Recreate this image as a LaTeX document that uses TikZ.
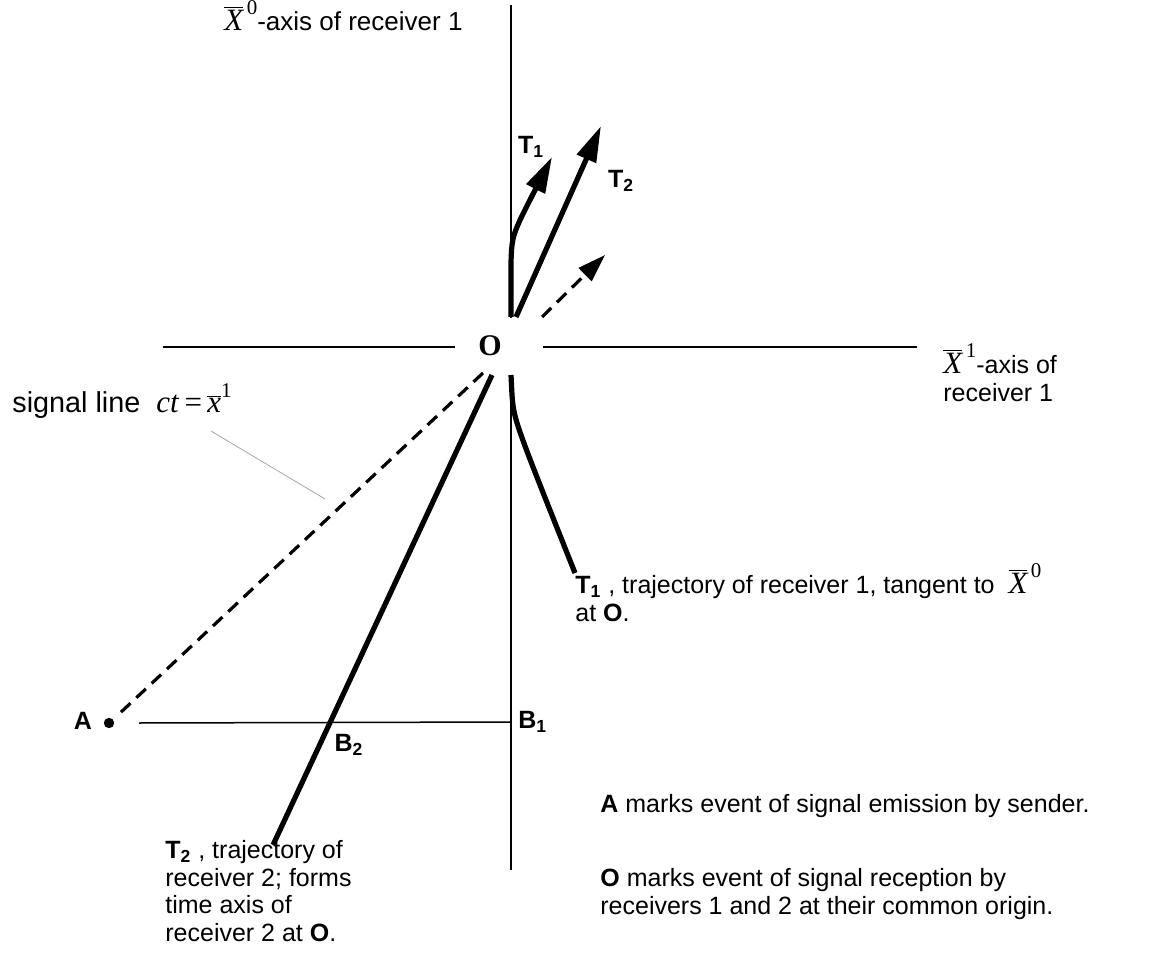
\documentclass[tikz,border=0pt]{standalone}
\usepackage{fontspec}
\setmainfont{Liberation Sans}
\newfontfamily\timesfont{Liberation Serif}
\usetikzlibrary{arrows.meta}

% barred coordinate symbols in a Times-like italic
\newcommand{\Xb}[1]{{\timesfont\fontsize{15.5}{16}\selectfont$\overline{\hbox{\itshape X}}$\raisebox{1.15ex}{\fontsize{10.5}{11}\selectfont\,#1}}}
\newcommand{\sigeq}{{\timesfont\fontsize{15.5}{16}\selectfont\itshape ct\/\,\upshape=\,$\overline{\hbox{\itshape x}}$\raisebox{1.1ex}{\fontsize{10.5}{11}\selectfont 1}}}

\tikzset{
  axisline/.style={line width=0.75pt, draw=black},
  trajline/.style={line width=2.6pt, draw=black},
  trajarrow/.style={trajline, -{Triangle[length=18pt, width=10pt]}},
  signalline/.style={line width=1.6pt, dash pattern=on 6.5pt off 4pt},
  dasharrow/.style={signalline, -{Triangle[length=14pt, width=9pt]}},
  leaderline/.style={line width=0.4pt, draw=gray!70},
  lbl/.style={font=\fontsize{12.5}{14}\selectfont, inner sep=0pt},
  boldlbl/.style={lbl, font=\fontsize{12.5}{14}\selectfont\bfseries},
  caption/.style={lbl, align=left, anchor=north west,
                  font=\fontsize{12.5}{13.8}\selectfont},
}

\begin{document}
\begin{tikzpicture}[x=0.5pt, y=-0.5pt]
  \useasboundingbox (0,0) rectangle (1154,977);

  %% axes of receiver 1
  \coordinate (x0top) at (511,5);
  \coordinate (x0gapT) at (511,318);
  \coordinate (x0gapB) at (511,378);
  \coordinate (x0bot) at (511,870);
  \coordinate (x1L) at (163,347);
  \coordinate (x1Lend) at (455,347);
  \coordinate (x1R) at (543,347);
  \coordinate (x1Rend) at (917,347);
  \draw[axisline] (x0top) -- (x0gapT);
  \draw[axisline] (x0gapB) -- (x0bot);
  \draw[axisline] (x1L) -- (x1Lend);
  \draw[axisline] (x1R) -- (x1Rend);

  \node[font=\fontsize{15}{16}\selectfont\timesfont\bfseries, inner sep=0pt] (Olbl) at (490,346) {O};

  %% trajectories above O
  \coordinate (t1s) at (511,317);
  \coordinate (t1k) at (511,262);
  \coordinate (t1tip) at (552,157);
  \coordinate (t2s) at (516,317);
  \coordinate (t2tip) at (601,126);
  \coordinate (ds) at (542,317);
  \coordinate (dtip) at (605,255);
  \draw[trajarrow] (t1s) -- (t1k) .. controls (512,235) .. (t1tip);
  \draw[trajarrow] (t2s) -- (t2tip);
  \draw[dasharrow] (ds) -- (dtip);
  \node[boldlbl] (t1up) at (531,147) {T\textsubscript{1}};
  \node[boldlbl] (t2up) at (621,181) {T\textsubscript{2}};

  %% trajectories below O
  \coordinate (t1d) at (511,375);
  \coordinate (t1m) at (512,395);
  \coordinate (t1e) at (575,573);
  \coordinate (t2d) at (492,375);
  \coordinate (t2e) at (273,845);
  \draw[trajline] (t1d) -- (t1m) .. controls (514,420) .. (t1e);
  \draw[trajline] (t2d) -- (t2e);

  %% signal line and events
  \coordinate (sgs) at (483,373);
  \coordinate (sge) at (119,714);
  \draw[signalline] (sgs) -- (sge);
  \fill (109,723) circle (2.6pt) coordinate (A);
  \coordinate (Bs) at (139,723);
  \coordinate (B1) at (511,722);
  \draw[axisline] (Bs) -- (B1);
  \node[boldlbl] (Albl) at (83,721) {A};
  \node[boldlbl, anchor=west] (B1lbl) at (518,722) {B\textsubscript{1}};
  \node[boldlbl] (B2lbl) at (349,745) {B\textsubscript{2}};

  %% texts
  \node[lbl, anchor=base west, font=\fontsize{13}{14}\selectfont] (x0lbl) at (224,31) {\Xb{0}-axis of receiver 1};
  \node[caption] (x1lbl) at (943,343) {\Xb{1}-axis of\\receiver 1};
  \node[lbl, anchor=base west, font=\fontsize{14.4}{16}\selectfont] (siglbl) at (12,413) {signal line \ \sigeq};
  \coordinate (ldA) at (211,431);
  \coordinate (ldB) at (325,499);
  \draw[leaderline] (ldA) -- (ldB);
  \node[caption] (t1cap) at (575,563)
    {\textbf{T\textsubscript{1}} , trajectory of receiver 1, tangent to \ \Xb{0}\\at \textbf{O}.};
  \node[caption] (t2cap) at (165,840)
    {\textbf{T\textsubscript{2}} , trajectory of\\receiver 2; forms\\time axis of\\receiver 2 at \textbf{O}.};
  \node[caption] (acap) at (600,794)
    {\textbf{A} marks event of signal emission by sender.};
  \node[caption] (ocap) at (600,868)
    {\textbf{O} marks event of signal reception by\\receivers 1 and 2 at their common origin.};
\end{tikzpicture}
\end{document}
